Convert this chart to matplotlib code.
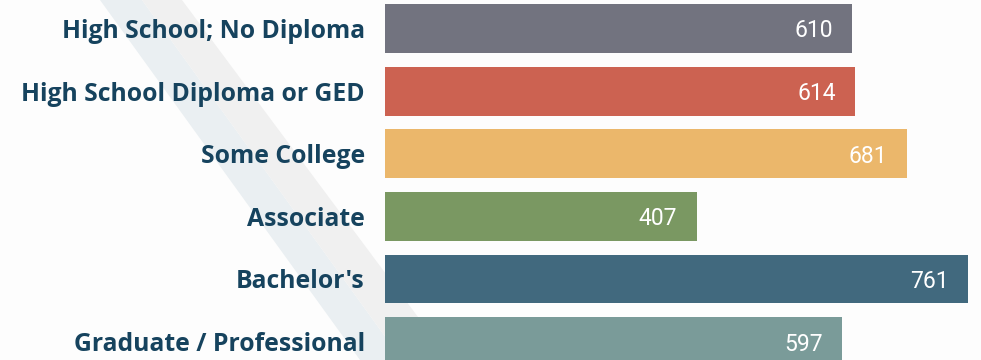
import matplotlib.pyplot as plt
from matplotlib.patches import Polygon

categories = ['High School; No Diploma', 'High School Diploma or GED', 'Some College',
              'Associate', "Bachelor's", 'Graduate / Professional']
values = [610, 614, 681, 407, 761, 597]
colors = ['#72737f', '#cc6251', '#ebb76b', '#7a9862', '#41697e', '#7a9b99']

W, H = 981, 360
fig = plt.figure(figsize=(W / 100, H / 100), dpi=100, facecolor='#fdfdfd')


# faint diagonal stripes in the background (pixel coords, y downwards)
def px_poly(pts, color):
    xy = [(x / W, 1 - y / H) for x, y in pts]
    fig.add_artist(Polygon(xy, closed=True, transform=fig.transFigure,
                           facecolor=color, edgecolor='none', zorder=0))


px_poly([(100, 0), (142, 0), (402, 360), (360, 360)], '#eaeff2')
px_poly([(142, 0), (182, 0), (450, 360), (402, 360)], '#f0f0f0')

ax = fig.add_axes([385 / W, 0, (W - 385) / W, 1])
ax.set_facecolor('none')

y = list(range(len(categories)))
ax.barh(y, values, height=0.78, color=colors, zorder=2)

ax.set_xlim(0, 778)
ax.set_ylim(5.295, -0.455)

ax.set_yticks(y)
ax.set_yticklabels(categories, fontsize=17.8, fontweight='bold', color='#16435e',
                   fontfamily='Open Sans')
ax.tick_params(axis='y', length=0, pad=14.4)
ax.set_xticks([])
for s in ax.spines.values():
    s.set_visible(False)

for i, v in enumerate(values):
    ax.annotate(str(v), (v, i), xytext=(-14, 0), textcoords='offset points',
                ha='right', va='center_baseline', color='white', fontsize=16.5,
                fontfamily='Roboto', zorder=3)

fig.savefig('out.png', dpi=100, facecolor=fig.get_facecolor())
